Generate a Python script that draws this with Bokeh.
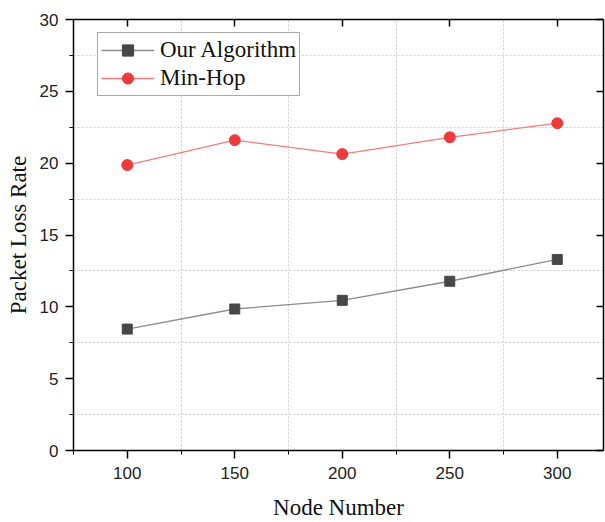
from bokeh.plotting import figure
from bokeh.models import LinearAxis, SingleIntervalTicker, FixedTicker, Range1d
from bokeh.embed import file_html
from bokeh.resources import INLINE

nodes = [100, 150, 200, 250, 300]
our_algorithm = [8.45, 9.85, 10.45, 11.78, 13.3]
min_hop = [19.87, 21.6, 20.63, 21.8, 22.78]
x_grid_ticks = [125, 175, 225, 275]
y_grid_ticks = [2.5, 7.5, 12.5, 17.5, 22.5, 27.5]

p = figure(width=605, height=522, output_backend="svg", toolbar_location=None,
           x_range=Range1d(75, 321.5), y_range=Range1d(0, 30),
           min_border_left=73, min_border_top=19, min_border_right=2, min_border_bottom=70)
p.outline_line_color = None

p.xaxis.ticker = SingleIntervalTicker(interval=50, num_minor_ticks=2)
p.yaxis.ticker = SingleIntervalTicker(interval=5, num_minor_ticks=2)

for ax in (p.xaxis[0], p.yaxis[0]):
    ax.axis_line_width = 1.5
    ax.axis_line_color = "black"
    ax.major_tick_line_width = 1.5
    ax.minor_tick_line_width = 1
    ax.major_tick_out = 8
    ax.major_tick_in = 0
    ax.minor_tick_out = 4
    ax.minor_tick_in = 0
    ax.major_label_text_font = "Liberation Sans"
    ax.major_label_text_font_size = "17px"
    ax.major_label_text_color = "#222222"
    ax.axis_label_text_font = "Liberation Serif"
    ax.axis_label_text_font_size = "23px"
    ax.axis_label_text_font_style = "normal"
    ax.axis_label_text_color = "#111111"

p.xaxis.axis_label = "Node Number"
p.yaxis.axis_label = "Packet Loss Rate"
p.xaxis.major_label_standoff = 8
p.xaxis.axis_label_standoff = 13
p.yaxis.major_label_standoff = 7
p.yaxis.axis_label_standoff = 6

top = LinearAxis(ticker=SingleIntervalTicker(interval=50, num_minor_ticks=0))
right = LinearAxis(ticker=SingleIntervalTicker(interval=5, num_minor_ticks=0))
for ax in (top, right):
    ax.axis_line_width = 1.5
    ax.axis_line_color = "black"
    ax.major_tick_in = 7
    ax.major_tick_out = 0
    ax.major_tick_line_width = 1.5
    ax.minor_tick_line_color = None
    ax.major_label_text_font_size = "0px"
    ax.major_label_standoff = 0
    ax.major_label_text_color = None
p.add_layout(top, "above")
p.add_layout(right, "right")

p.xgrid.ticker = FixedTicker(ticks=x_grid_ticks)
p.ygrid.ticker = FixedTicker(ticks=y_grid_ticks)
for g in (p.xgrid[0], p.ygrid[0]):
    g.grid_line_color = "#cccccc"
    g.grid_line_dash = "2 2"
    g.grid_line_width = 1

p.line(nodes, our_algorithm, line_color="#8c8c8c", line_width=1.3, legend_label="Our Algorithm")
p.scatter(nodes, our_algorithm, marker="square", size=10, fill_color="#474747",
          line_color="#474747", legend_label="Our Algorithm")
p.line(nodes, min_hop, line_color="#f47c7c", line_width=1.3, legend_label="Min-Hop")
p.scatter(nodes, min_hop, marker="circle", size=11, fill_color="#ee3a3a",
          line_color="#ee3a3a", legend_label="Min-Hop")

lg = p.legend[0]
lg.location = (24, 354)
lg.border_line_color = "#555555"
lg.border_line_width = 1
lg.background_fill_alpha = 1
lg.padding = 3
lg.spacing = 0
lg.margin = 0
lg.label_height = 28
lg.glyph_height = 28
lg.glyph_width = 53
lg.label_standoff = 6
lg.label_text_font = "Liberation Serif"
lg.label_text_font_size = "23px"
lg.label_text_color = "#111111"

open("out.html", "w").write(file_html(p, INLINE))
